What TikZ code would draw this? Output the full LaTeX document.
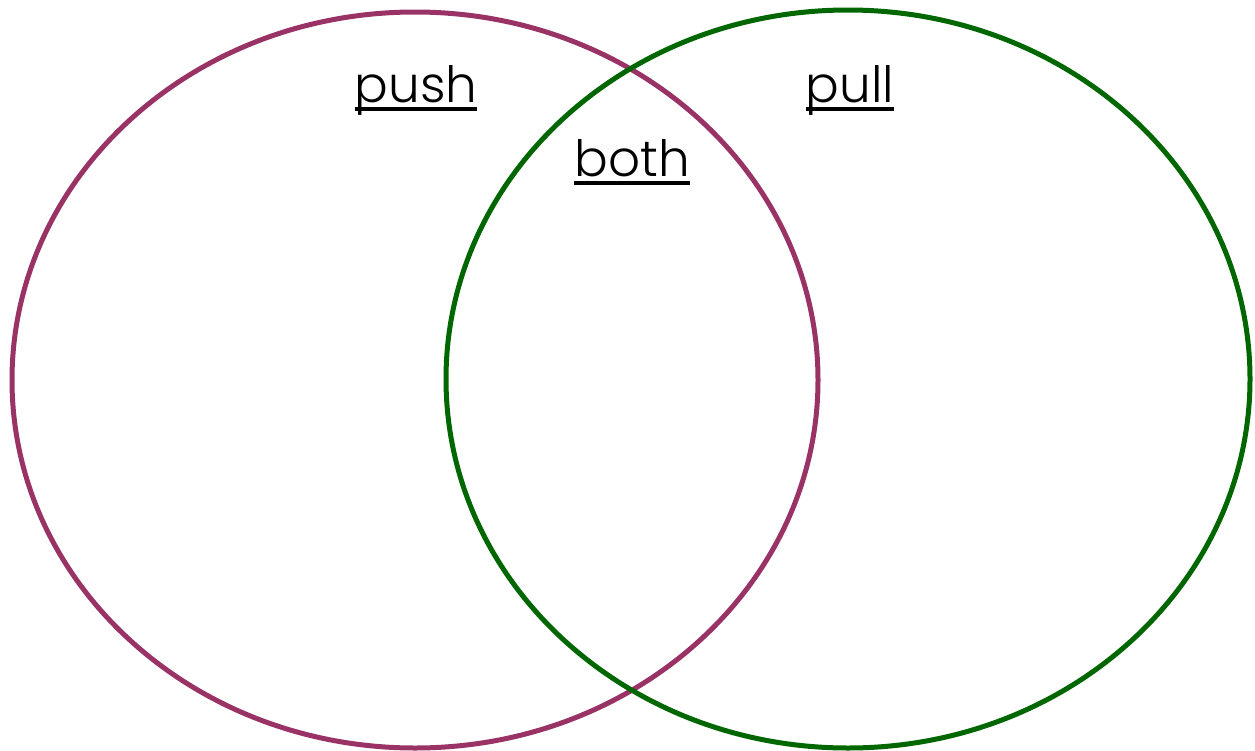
\documentclass[tikz,border=0pt]{standalone}
\usepackage{fontspec}
\setmainfont{Poppins Light}
\definecolor{pushc}{HTML}{993366}
\definecolor{pullc}{HTML}{006600}
\begin{document}
\begin{tikzpicture}[x=1pt,y=-1pt,
  ring/.style={line width=5pt},
  lbl/.style={inner sep=0pt,anchor=base,font=\fontsize{50}{54}\selectfont},
  uline/.style={line width=4.5pt}]
\useasboundingbox (0,0) rectangle (1255,750);
\draw[ring,pushc] (415,380) ellipse [x radius=403, y radius=368];
\draw[ring,pullc] (848,379) ellipse [x radius=402, y radius=369];
\node[lbl] (push) at (416,102) {push};
\node[lbl] (both) at (632,176) {both};
\node[lbl] (pull) at (850,102) {pull};
\foreach \n in {push,both,pull}
  \draw[uline] ([yshift=-7pt]\n.base west) -- ([yshift=-7pt]\n.base east);
\end{tikzpicture}
\end{document}
